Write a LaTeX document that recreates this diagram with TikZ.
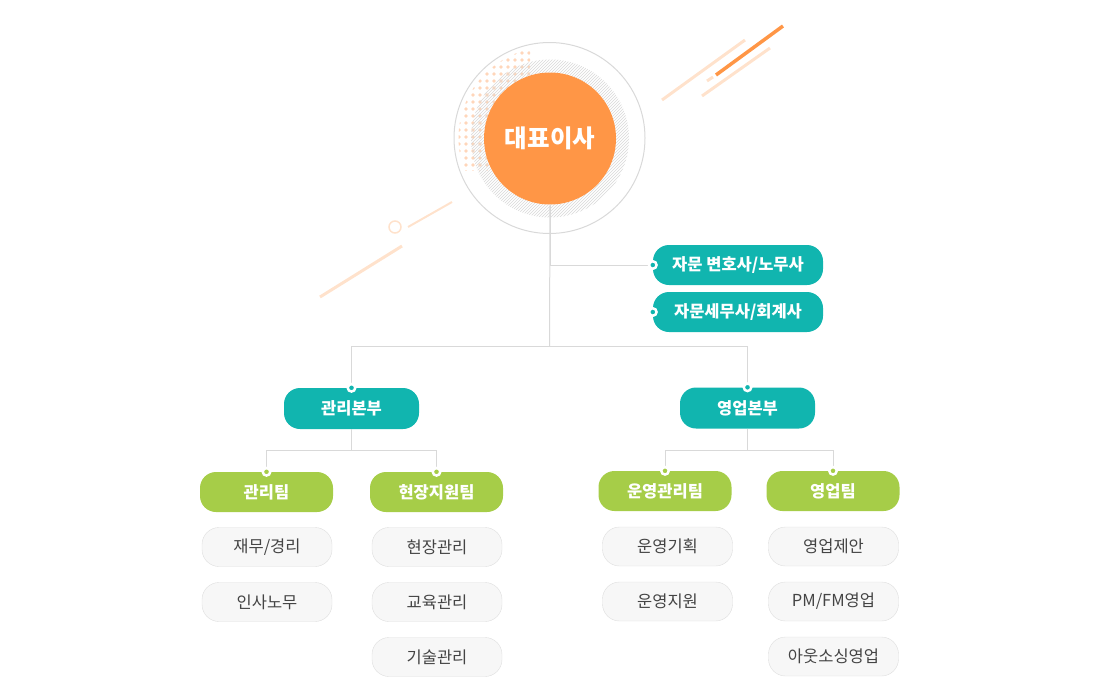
\documentclass[tikz,border=0pt]{standalone}
\usepackage{fontspec}
\setmainfont{Noto Sans CJK KR}
\usepackage{tikz}
\usetikzlibrary{patterns}
\usetikzlibrary{calc}
\definecolor{tealc}{RGB}{17,181,175}
\definecolor{greenc}{RGB}{166,205,72}
\definecolor{orangec}{RGB}{255,150,70}
\definecolor{peach}{RGB}{255,226,204}
\definecolor{dotc}{RGB}{255,214,186}
\definecolor{linec}{RGB}{217,217,217}
\definecolor{itemfill}{RGB}{247,247,247}
\definecolor{itemline}{RGB}{222,222,222}
\definecolor{itemtext}{RGB}{68,68,68}

\begin{document}
\begin{tikzpicture}[x=1pt, y=-1pt]

                \tikzstyle{head}  = [circle, fill=orangec, minimum size=132pt, inner sep=0pt, text=white, font=\fontsize{24.5}{28}\selectfont\bfseries]
                \tikzstyle{pill}  = [rounded corners=16pt, minimum height=40pt, inner sep=0pt, text=white, font=\fontsize{16.5}{19}\selectfont\bfseries]
                \tikzstyle{adv}   = [pill, fill=tealc, minimum width=170pt]
                \tikzstyle{div}   = [pill, fill=tealc, minimum width=135pt, minimum height=41pt]
                \tikzstyle{team}  = [pill, fill=greenc, minimum width=133pt]
                \tikzstyle{item}  = [rounded corners=17pt, draw=itemline, fill=itemfill, minimum width=130pt, minimum height=39pt, inner sep=0pt, text=itemtext, font=\fontsize{16.5}{19}\selectfont]
                \tikzstyle{joint} = [circle, draw=white, line width=2.5pt, minimum size=7.5pt, inner sep=0pt]
                \tikzstyle{link}  = [draw=linec, line width=1pt]

                \useasboundingbox (0,0) rectangle (1100,678);

                \draw [peach, line width=3pt] (320,297) -- (402,246);
                \draw [peach, line width=2pt] (408,227) -- (452,202);
                \draw [peach, line width=1.5pt] (395,227) circle (6pt);
                \draw [peach, line width=3pt] (662,100) -- (745,40);
                \draw [peach, line width=3pt] (702,96) -- (770,48);
                \draw [peach, line width=3pt] (707,81) -- (713,77);
                \draw [orangec, line width=3.5pt] (716,75) -- (783,26);

                \draw [linec, line width=1pt, fill=white] (549.5,138) circle (95.5pt);

                \begin{scope}
                        \clip (549.5,138) circle (91pt);
                        \clip (440,40) rectangle (530,170);
                        \foreach \i in {0,...,13}
                        {
                                \foreach \j in {0,...,19}
                                {
                                        \fill [dotc] (452+7*\i,46+7*\j) circle (1.9pt);
                                }
                        }
                \end{scope}

                \fill [pattern=north east lines, pattern color=black!15, even odd rule] (550,138.5) circle (79pt) circle (66pt);

                \node [head] (ceo) at (550,138.5) {대표이사};

                \node [adv] (adv1) at (738,265) {자문 변호사/노무사};
                \node [adv] (adv2) at (738,312) {자문세무사/회계사};

                \node [div] (mgmt)  at (351.5,408.5) {관리본부};
                \node [div] (sales) at (747.5,408) {영업본부};

                \node [team] (t1) at (266.5,492) {관리팀};
                \node [team] (t2) at (436.5,492) {현장지원팀};
                \node [team] (t3) at (665,491) {운영관리팀};
                \node [team] (t4) at (833,491) {영업팀};

                \coordinate (hub) at (549.5,346);

                \draw [link] (ceo.south) |- (adv1.west);
                \draw [link] (ceo.south) -- (hub);
                \draw [link] (hub) -| (mgmt.north);
                \draw [link] (hub) -| (sales.north);
                \draw [link] (mgmt.south) -- ++(0,21) -| (t1.north);
                \draw [link] (mgmt.south) -- ++(0,21) -| (t2.north);
                \draw [link] (sales.south) -- ++(0,22) -| (t3.north);
                \draw [link] (sales.south) -- ++(0,22) -| (t4.north);

                \node [joint, fill=tealc] (j1) at (adv1.west) {};
                \node [joint, fill=tealc] (j2) at (adv2.west) {};
                \node [joint, fill=tealc] (j3) at (mgmt.north) {};
                \node [joint, fill=tealc] (j4) at (sales.north) {};
                \foreach \t in {t1, t2, t3, t4}
                {
                        \node [joint, fill=greenc] (j\t) at (\t.north) {};
                }

                \foreach \txt [count=\i] in {재무/경리, 인사노무}
                {
                        \node [item] (a\i) at (267, 492+55*\i) {\txt};
                }
                \foreach \txt [count=\i] in {현장관리, 교육관리, 기술관리}
                {
                        \node [item] (b\i) at (437, 492+55*\i) {\txt};
                }
                \foreach \txt [count=\i] in {운영기획, 운영지원}
                {
                        \node [item] (c\i) at (667.5, 491.5+55*\i) {\txt};
                }
                \foreach \txt [count=\i] in {영업제안, PM/FM영업, 아웃소싱영업}
                {
                        \node [item] (d\i) at (833.5, 491.5+55*\i) {\txt};
                }

\end{tikzpicture}
\end{document}
